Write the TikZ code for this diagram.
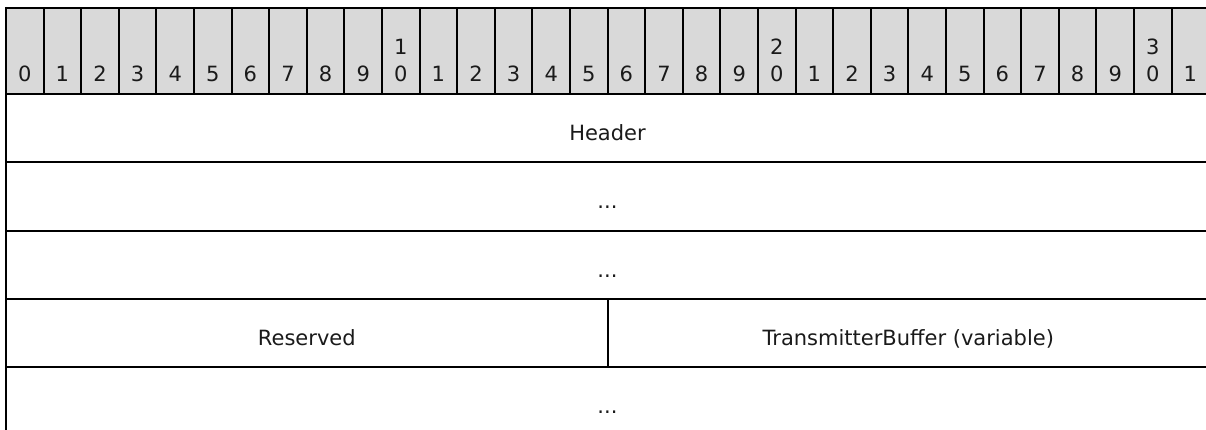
\documentclass[tikz,border=0pt]{standalone}
\usepackage{fontspec}
\setmainfont{DejaVu Sans}
\definecolor{hdrgray}{HTML}{D9D9D9}
\definecolor{txt}{HTML}{1A1A1A}
\begin{document}
\begin{tikzpicture}[x=1pt,y=-1pt,
  gridline/.style={line width=2pt, black},
  lbl/.style={anchor=base, inner sep=0pt, text=txt, font=\fontsize{21}{27}\selectfont}]
\useasboundingbox (0,0) rectangle (1206,430);
\clip (0,0) rectangle (1206,430);
% header band
\fill[hdrgray] (6,8) rectangle (1210,94);
% bit numbers
\foreach \i in {0,...,31} {
  \pgfmathsetmacro\cx{6+37.6*(\i+0.5)}
  \pgfmathtruncatemacro\ones{mod(\i,10)}
  \pgfmathtruncatemacro\tens{\i/10}
  \node[lbl] (b\i) at (\cx,82) {\ones};
  \ifnum\i>9\relax
    \ifnum\ones=0\relax
      \node[lbl] (bt\i) at (\cx,54.6) {\tens};
    \fi
  \fi
}
% header column separators
\foreach \i in {1,...,31} {
  \draw[gridline] ({6+37.6*\i},8) -- ({6+37.6*\i},94);
}
% horizontal lines
\foreach \y in {8,94,162.5,231,299,367} {
  \draw[gridline] (5,\y) -- (1212,\y);
}
% left border
\draw[gridline] (6,7) -- (6,432);
% divider between Reserved and TransmitterBuffer
\draw[gridline] (607.6,299) -- (607.6,367);
% field labels
\node[lbl] (header) at (607.5,140.7) {Header};
\node[lbl] (dots1) at (607.5,208.5) {...};
\node[lbl] (dots2) at (607.5,277) {...};
\node[lbl] (reserved) at (306.8,345) {Reserved};
\node[lbl] (tbuf) at (908.3,345) {TransmitterBuffer (variable)};
\node[lbl] (dots3) at (607.5,413) {...};
\end{tikzpicture}
\end{document}
